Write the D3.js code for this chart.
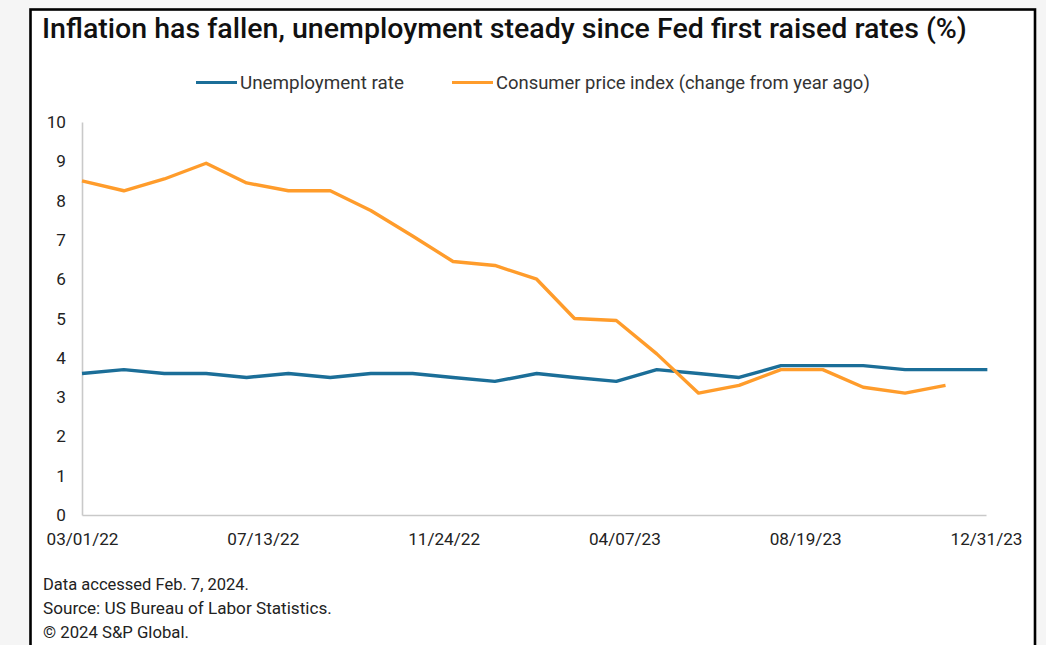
<!DOCTYPE html>
<html>
<head>
<meta charset="utf-8">
<script src="https://cdn.jsdelivr.net/npm/d3@7"></script>
<style>
  html, body { margin: 0; padding: 0; background: #f5f5f5; }
  svg { display: block; }
  text { font-family: Roboto, "Noto Sans", sans-serif; }
</style>
</head>
<body>
<svg id="chart" width="1046" height="645"></svg>
<script>
// Monthly observations (first of each month)
const unempDates = ["2022-03-01","2022-04-01","2022-05-01","2022-06-01","2022-07-01","2022-08-01",
  "2022-09-01","2022-10-01","2022-11-01","2022-12-01","2023-01-01","2023-02-01","2023-03-01",
  "2023-04-01","2023-05-01","2023-06-01","2023-07-01","2023-08-01","2023-09-01","2023-10-01",
  "2023-11-01","2023-12-01","2024-01-01"];
const unemployment = [3.6,3.7,3.6,3.6,3.5,3.6,3.5,3.6,3.6,3.5,3.4,3.6,3.5,3.4,3.7,3.6,3.5,3.8,3.8,3.8,3.7,3.7,3.7];

const cpiDates = unempDates.slice(0, 22);
const cpi = [8.5,8.25,8.55,8.95,8.45,8.25,8.25,7.75,7.1,6.45,6.35,6.0,5.0,4.95,4.1,3.1,3.3,3.7,3.7,3.25,3.1,3.3];

const xTickDates = ["2022-03-01","2022-07-13","2022-11-24","2023-04-07","2023-08-19","2023-12-31"];
const yTicks = [0,1,2,3,4,5,6,7,8,9,10];
const xDomain = ["2022-03-01","2023-12-31"];

const seriesNames = ["Unemployment rate", "Consumer price index (change from year ago)"];
const seriesColors = ["#1b6e98", "#ff9c2b"];

const titleText = "Inflation has fallen, unemployment steady since Fed first raised rates (%)";
const footerLines = ["Data accessed Feb. 7, 2024.", "Source: US Bureau of Labor Statistics.", "\u00A9 2024 S&P Global."];

const parse = d3.timeParse("%Y-%m-%d");
const fmt = d3.timeFormat("%m/%d/%y");

const svg = d3.select("#chart");

// Shrink/grow a text element's font-size so it spans a given width
function fitWidth(sel, width) {
  const fs = parseFloat(sel.attr("font-size"));
  const len = sel.node().getComputedTextLength();
  sel.attr("font-size", (fs * width / len).toFixed(2));
}

// Framed card
svg.append("rect")
  .attr("x", 30.5).attr("y", 9.5)
  .attr("width", 1004.5).attr("height", 660)
  .attr("fill", "#ffffff")
  .attr("stroke", "#000").attr("stroke-width", 2.6);

// Title
const title = svg.append("text")
  .attr("x", 42).attr("y", 38)
  .attr("font-size", 22).attr("font-weight", 500)
  .attr("fill", "#111")
  .text(titleText);
fitWidth(title, 925);

// Scales
const x = d3.scaleTime().domain(xDomain.map(parse)).range([82, 986]);
const y = d3.scaleLinear().domain([0, 10]).range([515, 122]);

// Axes
const xAxis = d3.axisBottom(x)
  .tickValues(xTickDates.map(parse))
  .tickFormat(fmt)
  .tickSize(0).tickPadding(18);
const gx = svg.append("g").attr("transform", `translate(0,${y(0)})`).call(xAxis);
gx.select(".domain").attr("stroke", "#c9c9c9").attr("stroke-width", 1.6);
gx.selectAll("text").attr("font-size", 17).attr("fill", "#222")
  .attr("font-family", "Roboto, sans-serif");
fitWidth(gx.select("text"), 72);
const xfs = gx.select("text").attr("font-size");
gx.selectAll("text").attr("font-size", xfs);

const yAxis = d3.axisLeft(y).tickValues(yTicks).tickSize(0).tickPadding(16);
const gy = svg.append("g").attr("transform", `translate(${x(parse(xDomain[0]))},0)`).call(yAxis);
gy.select(".domain").attr("stroke", "#c9c9c9").attr("stroke-width", 1.6);
gy.selectAll("text").attr("font-size", xfs).attr("fill", "#222")
  .attr("font-family", "Roboto, sans-serif");

// Lines
const line = d3.line().x(d => x(d[0])).y(d => y(d[1]));
const seriesData = [
  unempDates.map((d, i) => [parse(d), unemployment[i]]),
  cpiDates.map((d, i) => [parse(d), cpi[i]])
];
// draw CPI first so unemployment sits where it sits; order: unemployment, then CPI on top
svg.append("path").datum(seriesData[0])
  .attr("fill", "none").attr("stroke", seriesColors[0])
  .attr("stroke-width", 3.4).attr("stroke-linejoin", "round")
  .attr("d", line);
svg.append("path").datum(seriesData[1])
  .attr("fill", "none").attr("stroke", seriesColors[1])
  .attr("stroke-width", 3.4).attr("stroke-linejoin", "round")
  .attr("d", line);

// Legend
const legendItems = [
  { x0: 196, x1: 237, tx: 240, tw: 164 },
  { x0: 452, x1: 493, tx: 496, tw: 374 }
];
legendItems.forEach((it, i) => {
  svg.append("line")
    .attr("x1", it.x0).attr("x2", it.x1)
    .attr("y1", 82.5).attr("y2", 82.5)
    .attr("stroke", seriesColors[i]).attr("stroke-width", 3);
  const t = svg.append("text")
    .attr("x", it.tx).attr("y", 89)
    .attr("font-size", 16).attr("fill", "#333")
    .text(seriesNames[i]);
  fitWidth(t, it.tw);
});

// Footer notes
const footerY = [590, 614, 638];
const footerW = [206, 289, 146];
footerLines.forEach((s, i) => {
  const t = svg.append("text")
    .attr("x", 43).attr("y", footerY[i])
    .attr("font-size", 14).attr("fill", "#222")
    .text(s);
  fitWidth(t, footerW[i]);
});
</script>
</body>
</html>
